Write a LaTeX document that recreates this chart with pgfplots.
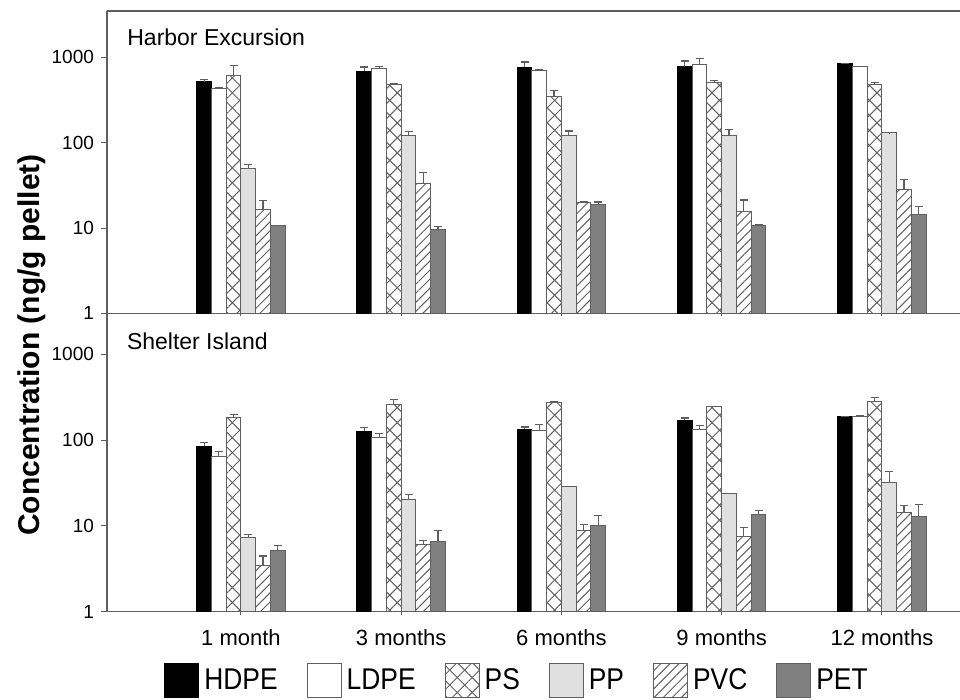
\documentclass[border=0pt]{standalone}
\usepackage{fontspec}
\setmainfont{Liberation Sans}
\newfontfamily\legfont{Liberation Sans}[FakeStretch=0.88]
\usepackage{pgfplots}
\pgfplotsset{compat=1.18}
\usepackage{pgfplotstable}
\usetikzlibrary{patterns.meta}

\definecolor{ppgray}{RGB}{224,224,224}
\definecolor{petgray}{RGB}{128,128,128}
\definecolor{edge}{RGB}{95,95,95}

\pgfplotstableread{
x HDPE HDPEe LDPE LDPEe PS PSe PP PPe PVC PVCe PET PETe
0 516 36 436 4 613 194 50.3 5.7 16.6 4.6 10.6 0
1 687 84 738 48 482 8 120 14 33.6 11.4 9.6 0.9
2 771 112 700 15 352 58 123 14 19.9 0.4 19 1.2
3 780 126 829 144 503 32 122 21 15.6 5.7 10.6 0.3
4 851 0 780 10 482 30 130 1 28.2 8.6 14.3 3.7
}\harbor

\pgfplotstableread{
x HDPE HDPEe LDPE LDPEe PS PSe PP PPe PVC PVCe PET PETe
0 84.5 10.1 65 9 185 12 7.4 0.5 3.5 0.95 5.1 0.8
1 127 14 108 11 258 36 20.1 3.3 6.1 0.6 6.5 2.4
2 134 8 129 22 274 6 28.7 0.3 8.8 1.5 10.1 3.1
3 171 10 132 16 244 3 23.7 0.3 7.6 1.95 13.7 1.5
4 187 0 190 2 284 30 32.4 10.4 14.4 2.9 12.9 4.7
}\shelter

\pgfplotsset{
  sBase/.style={ybar, bar width=0.092, bar shift=0pt, line width=0.5pt,
    error bars/y dir=plus, error bars/y explicit,
    error bars/error mark=-,
    error bars/error bar style={draw=edge, line width=0.6pt},
    error bars/error mark options={draw=edge, rotate=90, mark size=2pt, line width=0.6pt}},
  sHDPE/.style={sBase, fill=black, draw=black},
  sLDPE/.style={sBase, fill=white, draw=edge},
  sPS/.style={sBase, draw=edge, pattern={Lines[angle=45,distance=5.3pt,line width=0.5pt]}, pattern color=edge,
     postaction={pattern={Lines[angle=-45,distance=5.3pt,line width=0.5pt]}, pattern color=edge}},
  sPP/.style={sBase, fill=ppgray, draw=edge},
  sPVC/.style={sBase, draw=edge, pattern={Lines[angle=45,distance=3.2pt,line width=0.5pt]}, pattern color=edge},
  sPET/.style={sBase, fill=petgray, draw=edge},
}

\begin{document}
\begin{tikzpicture}
\path[use as bounding box] (0,0) rectangle (480pt,-350pt);

\begin{axis}[at={(53.5pt,-5.5pt)}, anchor=north west,
    scale only axis, width=426.5pt, height=151.15pt,
    xmin=-0.836, xmax=4.487,
    ymode=log, ymin=1, ymax=3500,
    axis x line*=box, axis y line*=left,
    ytick={1,10,100,1000}, yticklabels={1,10,100,1000},
    yminorticks=false, ytick align=outside,
    xtick={0,1,2,3,4}, xtick align=center, xticklabels={}, xtick pos=bottom,
    major tick length=3pt,
    tick style={draw=edge, line width=0.5pt},
    axis line style={draw=edge, line width=0.6pt},
    /pgf/number format/assume math mode=true,
    yticklabel style={font=\fontsize{9.5}{11}\selectfont}]
\addplot[sHDPE] table[x expr=\thisrow{x}-0.23, y=HDPE, y error plus=HDPEe] {\harbor};
\addplot[sLDPE] table[x expr=\thisrow{x}-0.138, y=LDPE, y error plus=LDPEe] {\harbor};
\addplot[sPS]   table[x expr=\thisrow{x}-0.046, y=PS, y error plus=PSe] {\harbor};
\addplot[sPP]   table[x expr=\thisrow{x}+0.046, y=PP, y error plus=PPe] {\harbor};
\addplot[sPVC]  table[x expr=\thisrow{x}+0.138, y=PVC, y error plus=PVCe] {\harbor};
\addplot[sPET]  table[x expr=\thisrow{x}+0.23, y=PET, y error plus=PETe] {\harbor};
\node[anchor=west, inner sep=0pt, font=\fontsize{11.5}{14}\selectfont] at (axis description cs:0.0234,0.912) {Harbor Excursion};
\end{axis}

\begin{axis}[at={(53.5pt,-156.65pt)}, anchor=north west,
    scale only axis, width=426.5pt, height=149.2pt,
    xmin=-0.836, xmax=4.487,
    ymode=log, ymin=1, ymax=3000,
    axis x line*=bottom, axis y line*=left,
    ytick={1,10,100,1000}, yticklabels={1,10,100,1000},
    yminorticks=false, ytick align=outside,
    xtick={0,1,2,3,4}, xtick align=center,
    xticklabels={1 month,3 months,6 months,9 months,12 months},
    xticklabel style={font=\fontsize{11}{13}\selectfont, yshift=-4pt},
    major tick length=3pt,
    tick style={draw=edge, line width=0.5pt},
    axis line style={draw=edge, line width=0.6pt},
    /pgf/number format/assume math mode=true,
    yticklabel style={font=\fontsize{9.5}{11}\selectfont},
    legend image code/.code={\draw[#1] (0pt,-8.5pt) rectangle (17pt,8.5pt);},
    legend columns=6,
    legend style={at={(axis description cs:0.4807,-0.232)}, anchor=center, draw=none, fill=none,
      font=\legfont\fontsize{15}{17}\selectfont,
      nodes={inner sep=1pt},
      /tikz/every odd column/.append style={column sep=1.5pt},
      /tikz/every even column/.append style={column sep=13.5pt}}]
\addplot[sHDPE] table[x expr=\thisrow{x}-0.23, y=HDPE, y error plus=HDPEe] {\shelter};
\addplot[sLDPE] table[x expr=\thisrow{x}-0.138, y=LDPE, y error plus=LDPEe] {\shelter};
\addplot[sPS]   table[x expr=\thisrow{x}-0.046, y=PS, y error plus=PSe] {\shelter};
\addplot[sPP]   table[x expr=\thisrow{x}+0.046, y=PP, y error plus=PPe] {\shelter};
\addplot[sPVC]  table[x expr=\thisrow{x}+0.138, y=PVC, y error plus=PVCe] {\shelter};
\addplot[sPET]  table[x expr=\thisrow{x}+0.23, y=PET, y error plus=PETe] {\shelter};
\legend{HDPE,LDPE,PS,PP,PVC,PET}
\node[anchor=west, inner sep=0pt, font=\fontsize{11.5}{14}\selectfont] at (axis description cs:0.023,0.905) {Shelter Island};
\end{axis}

\node[rotate=90, font=\bfseries\fontsize{15}{18}\selectfont] at (16pt,-172.5pt) {Concentration (ng/g pellet)};
\end{tikzpicture}
\end{document}
